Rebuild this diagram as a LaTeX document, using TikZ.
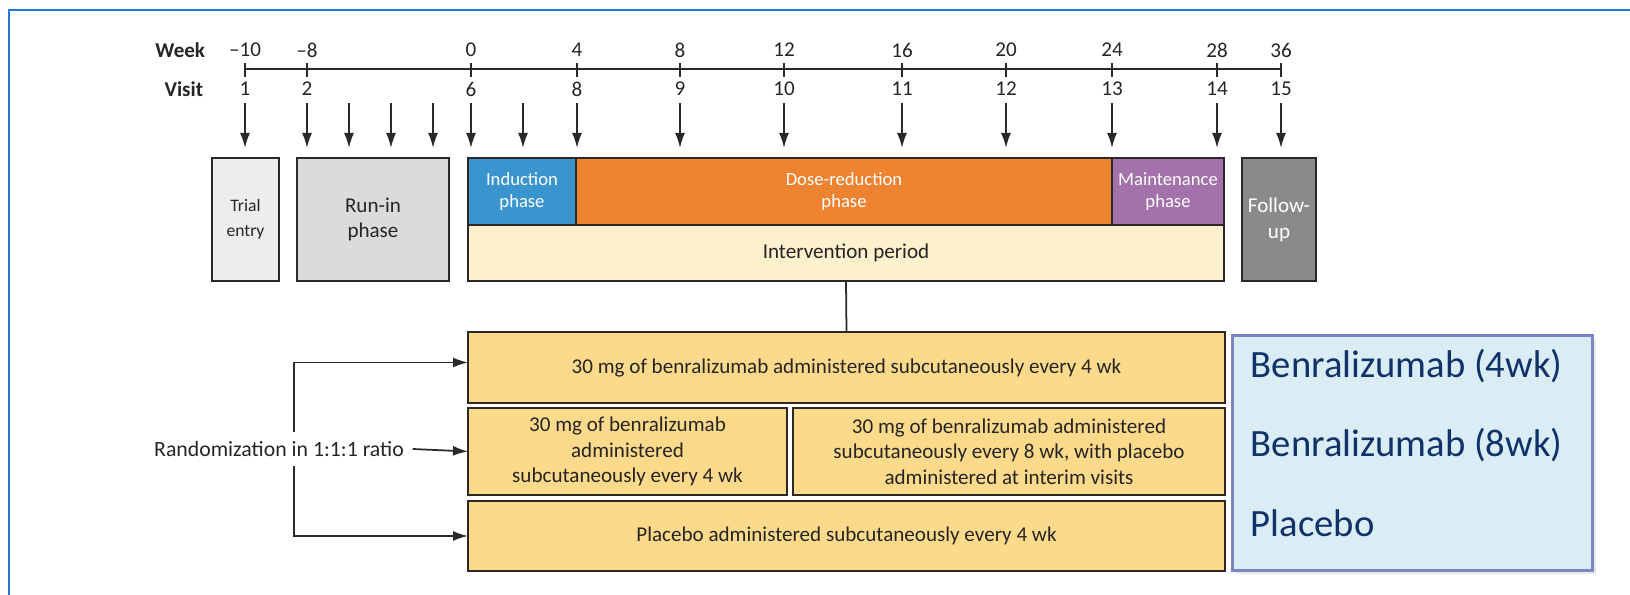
\documentclass[tikz,border=0pt]{standalone}
\usepackage{fontspec}
\setmainfont{Carlito}
\usetikzlibrary{arrows.meta,shadows}

\definecolor{edge}{RGB}{45,40,40}
\definecolor{ink}{RGB}{40,36,36}
\definecolor{framecol}{RGB}{30,122,212}
\definecolor{trialfill}{RGB}{236,238,237}
\definecolor{runinfill}{RGB}{218,220,220}
\definecolor{inductfill}{RGB}{58,148,206}
\definecolor{dosefill}{RGB}{237,130,48}
\definecolor{maintfill}{RGB}{164,114,170}
\definecolor{intervfill}{RGB}{253,240,205}
\definecolor{followfill}{RGB}{138,138,138}
\definecolor{armfill}{RGB}{251,218,140}
\definecolor{legfill}{RGB}{219,237,244}
\definecolor{legedge}{RGB}{120,135,195}
\definecolor{navy}{RGB}{16,50,104}

\begin{document}
\begin{tikzpicture}[x=0.1mm,y=-0.1mm,color=edge]
        \tikzstyle{every path}=[line width=0.5pt]
        \tikzset{>={Latex[length=1.5mm,width=1mm]}}

        \tikzstyle{blk}=[draw=edge,line width=0.7pt,anchor=north west,inner sep=0pt,outer sep=0pt,align=center]
        \tikzstyle{lbl}=[font=\fontsize{6}{7.2}\selectfont,text=ink,inner sep=0pt]
        \tikzstyle{head}=[lbl,anchor=east,font=\bfseries\fontsize{6}{7.2}\selectfont]
        \tikzstyle{phase}=[blk,text=white,minimum height=6.7mm,font=\fontsize{5.3}{6.3}\selectfont]
        \tikzstyle{arm}=[blk,fill=armfill,text=ink,font=\fontsize{6}{7.3}\selectfont]
        \tikzstyle{leg}=[anchor=west,inner sep=0pt,text=navy,font=\fontsize{11}{13}\selectfont]

        \useasboundingbox (0,0) rectangle (1630,595);
        \draw[framecol,line width=0.6pt] (1630,10) -- (9,10) -- (9,595);

        % time axis
        \node[head] (week) at (206,50) {Week};
        \node[head] (visit) at (204,89) {Visit};
        \coordinate (axisL) at (245,69);
        \coordinate (axisR) at (1281,69);
        \draw (axisL) -- (axisR);
        \foreach \x/\wk/\vis in {245/--10/1, 307/--8/2, 471/0/6, 577/4/8, 680/8/9, 784/12/10,
                902/16/11, 1006/20/12, 1112/24/13, 1217/28/14, 1281/36/15} {
            \node [lbl] (wk\vis) at (\x,50) {\wk};
            \node [lbl] (vs\vis) at (\x,89) {\vis};
            \draw (\x,63) -- (\x,77);
        };

        % visits
        \foreach \x in {245,307,349,391,433,471,523,577,680,784,902,1006,1112,1217,1281} {
            \coordinate (up\x) at (\x,103);
            \coordinate (dn\x) at (\x,148);
            \draw[->] (up\x) -- (dn\x);
        };

        % phases
        \node[blk,fill=trialfill,text=ink,minimum width=6.7mm,minimum height=12.3mm,
              font=\fontsize{5}{7.1}\selectfont] (trial) at (212,158) {Trial\\entry};
        \node[blk,fill=runinfill,text=ink,minimum width=15.2mm,minimum height=12.3mm,
              font=\fontsize{6}{7.1}\selectfont] (runin) at (297,158) {Run-in\\phase};
        \node[phase,fill=inductfill,minimum width=10.8mm] (induct) at (468,158) {Induction\\phase};
        \node[phase,fill=dosefill,minimum width=53.6mm] (dose) at (576,158) {Dose-reduction\\phase};
        \node[phase,fill=maintfill,minimum width=11.2mm] (maint) at (1112,158) {Maintenance\\phase};
        \node[blk,fill=intervfill,text=ink,minimum width=75.6mm,minimum height=5.6mm,
              font=\fontsize{6}{7.2}\selectfont] (interv) at (468,225) {Intervention period};
        \node[blk,fill=followfill,text=white,minimum width=7.4mm,minimum height=12.3mm,
              font=\fontsize{6}{7.4}\selectfont] (follow) at (1242,158) {Follow-\\up};

        % arms
        \node[arm,minimum width=75.7mm,minimum height=7.1mm] (armA) at (468,332)
            {30 mg of benralizumab administered subcutaneously every 4 wk};
        \node[arm,minimum width=31.9mm,minimum height=8.7mm] (armBl) at (468,408)
            {30 mg of benralizumab\\administered\\subcutaneously every 4 wk};
        \node[arm,minimum width=43.2mm,minimum height=8.7mm] (armBr) at (793,408)
            {30 mg of benralizumab administered\\subcutaneously every 8 wk, with placebo\\administered at interim visits};
        \node[arm,minimum width=75.7mm,minimum height=7.0mm] (armC) at (468,501)
            {Placebo administered subcutaneously every 4 wk};
        \draw (interv.south) -- (armA.north);

        % randomization
        \node[lbl,font=\fontsize{6.2}{7.2}\selectfont,minimum height=3.3mm,inner xsep=0.8mm] (rand) at (279,449) {Randomization in 1:1:1 ratio};
        \coordinate (split) at (294,449);
        \draw[->] (split |- rand.north) |- ([yshift=0.5mm]armA.west);
        \draw[->] (split |- rand.south) |- (armC.west);
        \draw[->] (rand.east) -- (armBl.west);

        % legend
        \node[draw=legedge,fill=legfill,line width=0.8pt,anchor=north west,minimum width=36mm,
              minimum height=23.5mm,drop shadow={shadow xshift=0.4mm,shadow yshift=-0.4mm,opacity=0.18}] (legend) at (1231,334) {};
        \node[leg] (leg4) at (1250,366) {Benralizumab (4wk)};
        \node[leg] (leg8) at (1250,445) {Benralizumab (8wk)};
        \node[leg] (legP) at (1250,523) {Placebo};

\end{tikzpicture}
\end{document}
